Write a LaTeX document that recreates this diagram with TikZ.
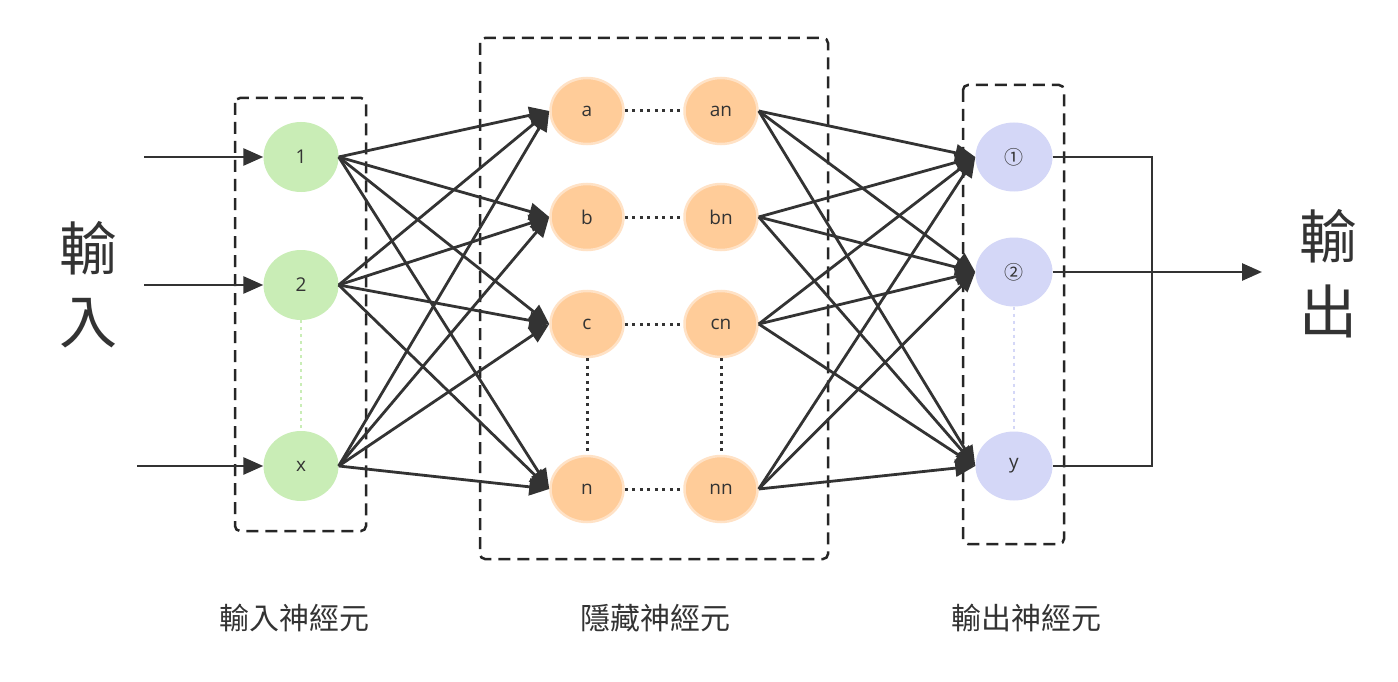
\documentclass[tikz,border=0pt]{standalone}
\usepackage{fontspec}
\setmainfont{Open Sans}
\newfontfamily\cjk{Noto Sans CJK TC}
\usetikzlibrary{arrows.meta,shapes.geometric}
\definecolor{lc}{HTML}{333333}
\definecolor{gfill}{HTML}{C9EDB6}
\definecolor{gdot}{HTML}{C9EDB6}
\definecolor{ofill}{HTML}{FFCC99}
\definecolor{oborder}{HTML}{FFE2C6}
\definecolor{pfill}{HTML}{D4D7F7}
\definecolor{pdot}{HTML}{D4D7F7}
\begin{document}
\begin{tikzpicture}[x=1pt,y=-1pt,
  neuron/.style={ellipse,inner sep=0pt,minimum width=75pt,minimum height=70pt,
    font=\fontsize{19}{21}\selectfont,text=lc},
  inneuron/.style={neuron,fill=gfill},
  hidneuron/.style={neuron,fill=ofill,draw=oborder,line width=2.5pt,minimum width=73pt,minimum height=66pt},
  outneuron/.style={neuron,fill=pfill,minimum width=77pt,minimum height=69pt},
  conn/.style={draw=lc,line width=2.8pt,-{Triangle[length=20pt,width=17pt]}},
  plain/.style={draw=lc,line width=2.8pt},
  groupbox/.style={draw=black!85,line width=2.5pt,dash pattern=on 12pt off 7pt,rounded corners=5pt},
  hdots/.style={draw=lc,line width=3pt,dash pattern=on 3pt off 4.5pt},
  bigtxt/.style={font=\cjk\fontsize{58}{60}\selectfont,text=lc,inner sep=0pt},
  captxt/.style={font=\cjk\fontsize{30}{34}\selectfont,text=lc,inner sep=0pt}
]
\useasboundingbox (0,0) rectangle (1398,682);
\fill[white] (0,0) rectangle (1398,682);

% group boxes
\draw[groupbox] (235,98) rectangle (366,531);
\draw[groupbox] (480,38) rectangle (828,559);
\draw[groupbox] (963,85) rectangle (1064,544);

% input layer
\node[inneuron] (i1) at (301,157) {1};
\node[inneuron] (i2) at (301,285) {2};
\node[inneuron] (ix) at (301,466) {x};
\draw[gdot,line width=2pt,dash pattern=on 3pt off 4pt] (i2.south) -- (ix.north);

% hidden layer
\node[hidneuron] (ha) at (587,111) {a};
\node[hidneuron] (hb) at (587,217) {b};
\node[hidneuron] (hc) at (587,324) {c};
\node[hidneuron] (hn) at (587,489) {n};
\node[hidneuron] (han) at (721,111) {an};
\node[hidneuron] (hbn) at (721,217) {bn};
\node[hidneuron] (hcn) at (721,324) {cn};
\node[hidneuron] (hnn) at (721,489) {nn};
\draw[hdots] (ha.east) -- (han.west);
\draw[hdots] (hb.east) -- (hbn.west);
\draw[hdots] (hc.east) -- (hcn.west);
\draw[hdots] (hn.east) -- (hnn.west);
\draw[hdots] (hc.south) -- (hn.north);
\draw[hdots] (hcn.south) -- (hnn.north);

% output layer
\node[outneuron] (o1) at (1014,157) {\cjk ①};
\node[outneuron] (o2) at (1014,272) {\cjk ②};
\node[outneuron] (oy) at (1014,466) {y};
\draw[pdot,line width=2pt,dash pattern=on 3pt off 4pt] (o2.south) -- (oy.north);

% input arrows
\coordinate (s1) at (144,157);
\coordinate (s2) at (144,285);
\coordinate (sx) at (137,466);
\draw[conn] (s1) -- (i1.west);
\draw[conn] (s2) -- (i2.west);
\draw[conn] (sx) -- (ix.west);

% input -> hidden
\foreach \s in {i1,i2,ix}{
  \foreach \t in {ha,hb,hc,hn}{
    \draw[conn] (\s.east) -- (\t.west);
  }
}
% hidden -> output
\foreach \s in {han,hbn,hcn,hnn}{
  \foreach \t in {o1,o2,oy}{
    \draw[conn] (\s.east) -- (\t.west);
  }
}

% output merge
\coordinate (mj) at (1152,157);
\coordinate (end) at (1262,272);
\draw[plain] (o1.east) -- (mj) |- (oy.east);
\draw[conn] (o2.east) -- (end);

% big texts
\node[bigtxt] (in1) at (88,248) {輸};
\node[bigtxt] (in2) at (88,323) {入};
\node[bigtxt] (out1) at (1328,236) {輸};
\node[bigtxt] (out2) at (1328,311) {出};

% captions
\node[captxt] (c1) at (294,618) {輸入神經元};
\node[captxt] (c2) at (655,618) {隱藏神經元};
\node[captxt] (c3) at (1026,618) {輸出神經元};
\end{tikzpicture}
\end{document}
